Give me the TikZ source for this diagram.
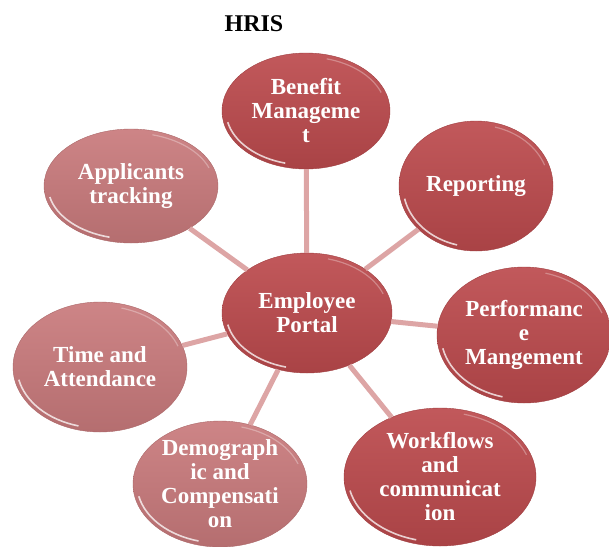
\documentclass[tikz,border=0pt]{standalone}
\usepackage{fontspec}
\setmainfont{Liberation Serif}
\usetikzlibrary{calc,shapes.geometric}

\definecolor{darkred}{HTML}{BC4A4D}
\definecolor{lightred}{HTML}{C97A7C}
\definecolor{spoke}{HTML}{DDA5A5}

\tikzset{
    bubble/.style={ellipse, inner sep=0pt, align=center, text=white,
        font=\bfseries\fontsize{23}{24}\selectfont,
        draw=#1!85!black, line width=.4pt,
        top color=#1!92!white, bottom color=#1!90!black,
        path picture={
            \path let \p1=(path picture bounding box.north east), \p2=(path picture bounding box.center) in
                [draw=white, opacity=.75, line width=1.6pt]
                ($(\p2)+(192:{\x1-\x2-4pt} and {\y1-\y2-4pt})$)
                arc[start angle=192, end angle=255, x radius={\x1-\x2-4pt}, y radius={\y1-\y2-4pt}];
            \path let \p1=(path picture bounding box.north east), \p2=(path picture bounding box.center) in
                [draw=white, opacity=.3, line width=1.2pt]
                ($(\p2)+(75:{\x1-\x2-4pt} and {\y1-\y2-4pt})$)
                arc[start angle=75, end angle=20, x radius={\x1-\x2-4pt}, y radius={\y1-\y2-4pt}];
        }},
    spokeline/.style={draw=spoke, line width=5pt}
}

\begin{document}
\begin{tikzpicture}[x=1pt, y=-1pt]
    \useasboundingbox (0,0) rectangle (609,546);

    % Title
    \node[font=\bfseries\fontsize{24}{24}\selectfont] (H) at (254,24) {HRIS};

    % Hub
    \node[bubble=darkred, minimum width=170pt, minimum height=120pt] (E) at (307,313) {Employee\\Portal};

    % Outer ring
    \node[bubble=darkred, minimum width=168pt, minimum height=116pt] (B) at (306,111) {Benefit\\Manageme\\t};
    \node[bubble=darkred, minimum width=154pt, minimum height=130pt] (R) at (476,186) {Reporting};
    \node[bubble=darkred, minimum width=174pt, minimum height=136pt] (P) at (524,335) {Performanc\\e\\Mangement};
    \node[bubble=darkred, minimum width=192pt, minimum height=138pt] (W) at (440,477) {Workflows\\and\\communicat\\ion};
    \node[bubble=lightred, minimum width=174pt, minimum height=126pt] (D) at (220,484) {Demograph\\ic and\\Compensati\\on};
    \node[bubble=lightred, minimum width=174pt, minimum height=130pt] (T) at (100,367) {Time and\\Attendance};
    \node[bubble=lightred, minimum width=174pt, minimum height=114pt] (A) at (131,186) {Applicants\\tracking};

    % Spokes
    \foreach \n in {B,R,P,W,D,T,A}
        \draw[spokeline] (E) -- (\n);
\end{tikzpicture}
\end{document}
